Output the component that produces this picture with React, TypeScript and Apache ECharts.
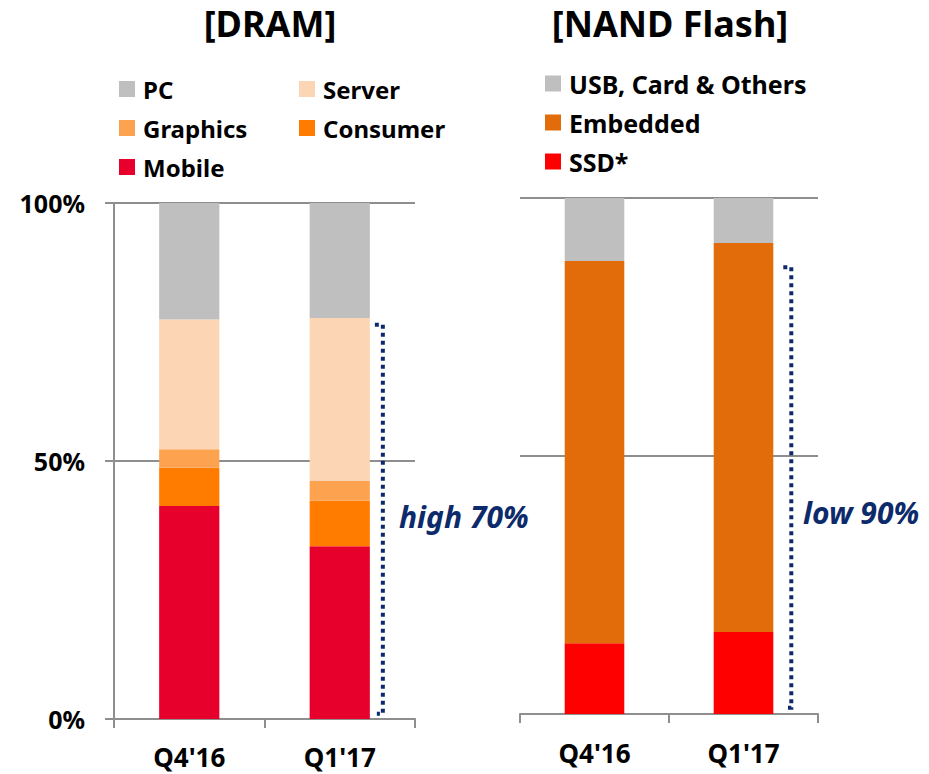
import React, { useEffect, useRef } from "react";
import * as echarts from "echarts";

const categories = ["Q4'16", "Q1'17"];

// DRAM shares (%), bottom to top
const dramMobile = [41.3, 33.5];
const dramConsumer = [7.4, 8.8];
const dramGraphics = [3.6, 3.8];
const dramServer = [25.1, 31.6];
const dramPC = [22.6, 22.3];

// NAND shares (%), bottom to top
const nandSSD = [13.7, 15.9];
const nandEmbedded = [74.1, 75.4];
const nandUSB = [12.2, 8.7];

// dotted bracket ranges: [category index, low %, high %]
const dramBracket = [[1, 1, 76.4]];
const nandBracket = [[1, 1.2, 86.6]];

const yTicks = [0, 50, 100];

const FONT = "'Noto Sans', 'DejaVu Sans', sans-serif";
const GRID = "#8e8e8e";
const NAVY = "#0d2b6b";

export default function App() {
  const ref = useRef<HTMLDivElement>(null);

  useEffect(() => {
    if (!ref.current) return;
    const chart = echarts.init(ref.current, null, { renderer: "svg" });

    const bracketSeries = (name: string, idx: number, data: number[][], offset: number) => ({
      type: "custom",
      name,
      xAxisIndex: idx,
      yAxisIndex: idx,
      silent: true,
      z: 10,
      data,
      encode: { x: 0, y: [1, 2] },
      renderItem: (params: any, api: any) => {
        const cat = api.value(0);
        const lo = api.value(1);
        const hi = api.value(2);
        const pTop = api.coord([cat, hi]);
        const pBot = api.coord([cat, lo]);
        const band = api.size([1, 0])[0];
        const x = pTop[0] + band * 0.2 + offset;
        return {
          type: "polyline",
          shape: {
            points: [
              [x - 8, pTop[1]],
              [x, pTop[1]],
              [x, pBot[1]],
              [x - 6, pBot[1]],
            ],
          },
          style: { stroke: NAVY, lineWidth: 4, lineDash: [4, 4], fill: "none" },
        };
      },
    });

    const barCommon = { type: "bar", barWidth: "40%" };

    const legendText = (size: number) => ({
      fontSize: size,
      fontWeight: "bold",
      fontFamily: FONT,
      color: "#000",
      lineHeight: 24,
      padding: [0, 0, 0, 3],
    });

    const axisText = (size: number) => ({
      fontSize: size,
      fontWeight: "bold",
      fontFamily: FONT,
      color: "#000",
    });

    const titleStyle = { fontSize: 36, fontWeight: "bold", fontFamily: FONT, color: "#000", lineHeight: 40 };

    chart.setOption({
      animation: false,
      title: [
        { text: "[DRAM]", left: 270, top: 3, textAlign: "center", padding: 0, textStyle: titleStyle },
        { text: "[NAND Flash]", left: 670, top: 3, textAlign: "center", padding: 0, textStyle: titleStyle },
      ],
      legend: [
        {
          orient: "vertical",
          left: 119,
          top: 77,
          padding: 0,
          itemGap: 15,
          itemWidth: 16,
          itemHeight: 16,
          icon: "rect",
          selectedMode: false,
          data: ["PC", "Graphics", "Mobile"],
          textStyle: legendText(24),
        },
        {
          orient: "vertical",
          left: 299,
          top: 77,
          padding: 0,
          itemGap: 15,
          itemWidth: 16,
          itemHeight: 16,
          icon: "rect",
          selectedMode: false,
          data: ["Server", "Consumer"],
          textStyle: legendText(24),
        },
        {
          orient: "vertical",
          left: 545,
          top: 71,
          padding: 0,
          itemGap: 14,
          itemWidth: 16,
          itemHeight: 16,
          icon: "rect",
          selectedMode: false,
          data: ["USB, Card & Others", "Embedded", "SSD*"],
          textStyle: legendText(25),
        },
      ],
      grid: [
        { left: 114, top: 203, width: 301, height: 516 },
        { left: 520, top: 198, width: 298, height: 516 },
      ],
      xAxis: [0, 1].map((i) => ({
        type: "category",
        gridIndex: i,
        data: categories,
        axisLine: { show: true, lineStyle: { color: GRID, width: 2 } },
        axisTick: { show: true, length: 9, lineStyle: { color: GRID, width: 2 } },
        axisLabel: { margin: i === 0 ? 25 : 26, ...axisText(26) },
      })),
      yAxis: [
        {
          type: "value",
          gridIndex: 0,
          min: 0,
          max: 100,
          interval: 50,
          axisLine: { show: true, lineStyle: { color: GRID, width: 2 } },
          axisTick: { show: true, length: 9, lineStyle: { color: GRID, width: 2 } },
          splitLine: { show: true, lineStyle: { color: GRID, width: 2 } },
          axisLabel: {
            margin: 29,
            ...axisText(25),
            formatter: (v: number) => (yTicks.includes(v) ? `${v}%` : ""),
          },
        },
        {
          type: "value",
          gridIndex: 1,
          min: 0,
          max: 100,
          interval: 50,
          axisLine: { show: false },
          axisTick: { show: false },
          axisLabel: { show: false },
          splitLine: { show: true, lineStyle: { color: GRID, width: 2 } },
        },
      ],
      series: [
        { ...barCommon, name: "Mobile", stack: "dram", xAxisIndex: 0, yAxisIndex: 0, data: dramMobile, itemStyle: { color: "#e8002d" } },
        { ...barCommon, name: "Consumer", stack: "dram", xAxisIndex: 0, yAxisIndex: 0, data: dramConsumer, itemStyle: { color: "#ff7c00" } },
        { ...barCommon, name: "Graphics", stack: "dram", xAxisIndex: 0, yAxisIndex: 0, data: dramGraphics, itemStyle: { color: "#fda24f" } },
        { ...barCommon, name: "Server", stack: "dram", xAxisIndex: 0, yAxisIndex: 0, data: dramServer, itemStyle: { color: "#fcd5b4" } },
        { ...barCommon, name: "PC", stack: "dram", xAxisIndex: 0, yAxisIndex: 0, data: dramPC, itemStyle: { color: "#bfbfbf" } },
        { ...barCommon, name: "SSD*", stack: "nand", xAxisIndex: 1, yAxisIndex: 1, data: nandSSD, itemStyle: { color: "#ff0000" } },
        { ...barCommon, name: "Embedded", stack: "nand", xAxisIndex: 1, yAxisIndex: 1, data: nandEmbedded, itemStyle: { color: "#e36c0a" } },
        { ...barCommon, name: "USB, Card & Others", stack: "nand", xAxisIndex: 1, yAxisIndex: 1, data: nandUSB, itemStyle: { color: "#bfbfbf" } },
        bracketSeries("dramBracket", 0, dramBracket, 13),
        bracketSeries("nandBracket", 1, nandBracket, 18),
      ],
      graphic: [
        {
          type: "text",
          x: 399,
          y: 516,
          style: {
            text: "high 70%",
            fontSize: 30,
            fontWeight: "bold",
            fontStyle: "italic",
            fontFamily: FONT,
            fill: NAVY,
            verticalAlign: "middle",
          },
        },
        {
          type: "text",
          x: 803,
          y: 512,
          style: {
            text: "low 90%",
            fontSize: 30,
            fontWeight: "bold",
            fontStyle: "italic",
            fontFamily: FONT,
            fill: NAVY,
            verticalAlign: "middle",
          },
        },
      ],
    });

    return () => chart.dispose();
  }, []);

  return (
    <div
      ref={ref}
      style={{ position: "absolute", left: 0, top: 0, width: 929, height: 774, background: "#fff" }}
    />
  );
}
